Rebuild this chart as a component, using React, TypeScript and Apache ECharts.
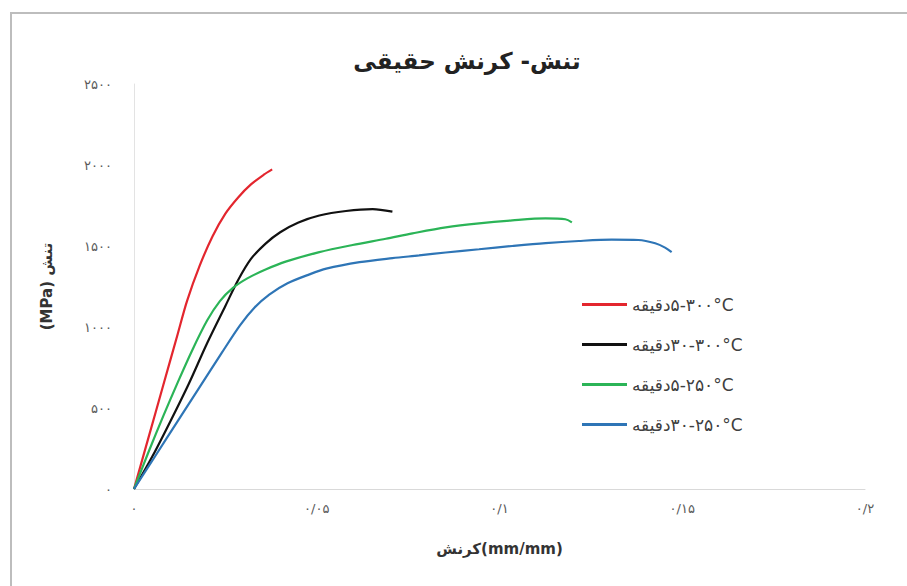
import React, { useEffect, useRef } from "react";
import * as echarts from "echarts";

const seriesNames = [
  "دقیقه\u200E۵-۳۰۰°C",
  "دقیقه\u200E۳۰-۳۰۰°C",
  "دقیقه\u200E۵-۲۵۰°C",
  "دقیقه\u200E۳۰-۲۵۰°C",
];
const seriesColors = ["#e3262e", "#111111", "#2bb457", "#2e75b6"];

const red300_5: [number, number][] = [
  [0, 0], [0.004, 320], [0.008, 640], [0.012, 960], [0.0145, 1160],
  [0.018, 1380], [0.0215, 1560], [0.025, 1700], [0.0285, 1800],
  [0.032, 1880], [0.0355, 1940], [0.0378, 1973],
];
const black300_30: [number, number][] = [
  [0, 0], [0.005, 200], [0.01, 420], [0.015, 650], [0.02, 900],
  [0.025, 1130], [0.0285, 1290], [0.032, 1420], [0.036, 1515],
  [0.04, 1585], [0.045, 1645], [0.0507, 1688], [0.058, 1716],
  [0.0653, 1728], [0.0707, 1712],
];
const green250_5: [number, number][] = [
  [0, 0], [0.004, 230], [0.008, 450], [0.012, 660], [0.016, 860],
  [0.02, 1040], [0.0235, 1160], [0.027, 1240], [0.031, 1300],
  [0.036, 1355], [0.0417, 1405], [0.0507, 1462], [0.0598, 1506],
  [0.0689, 1545], [0.0762, 1578], [0.0853, 1615], [0.0944, 1640],
  [0.1035, 1658], [0.1126, 1670], [0.118, 1665], [0.1198, 1646],
];
const blue250_30: [number, number][] = [
  [0, 0], [0.006, 210], [0.012, 420], [0.018, 630], [0.024, 840],
  [0.029, 1010], [0.033, 1120], [0.037, 1200], [0.042, 1270],
  [0.048, 1325], [0.0526, 1360], [0.0617, 1400], [0.0707, 1425],
  [0.078, 1442], [0.0853, 1460], [0.0944, 1480], [0.1035, 1500],
  [0.1126, 1518], [0.1217, 1531], [0.1307, 1539], [0.138, 1537],
  [0.1426, 1517], [0.1453, 1490], [0.1471, 1462],
];
const seriesData = [red300_5, black300_30, green250_5, blue250_30];

const xTickLabels = ["۰", "۰/۰۵", "۰/۱", "۰/۱۵", "۰/۲"];
const yTickLabels = ["۰", "۵۰۰", "۱۰۰۰", "۱۵۰۰", "۲۰۰۰", "۲۵۰۰"];

const titleText = "تنش- کرنش حقیقی";
const xAxisTitle = "کرنش(mm/mm)";
const yAxisTitle = "\u202Bتنش (MPa)\u202C";

const FONT = "'DejaVu Sans', 'Noto Sans', sans-serif";

export default function App() {
  const ref = useRef<HTMLDivElement>(null);
  useEffect(() => {
    document.body.style.margin = "0";
    if (!ref.current) return;
    const chart = echarts.init(ref.current, undefined, { renderer: "svg" });
    chart.setOption({
      animation: false,
      backgroundColor: "#ffffff",
      graphic: [
        {
          type: "rect",
          shape: { x: 11, y: 13, width: 1000, height: 1000 },
          style: { fill: "none", stroke: "#bdbdbd", lineWidth: 2 },
          silent: true,
        },
      ],
      title: {
        text: titleText,
        left: 462,
        top: 44,
        textAlign: "center",
        textStyle: { fontFamily: FONT, fontSize: 23, fontWeight: "bold", color: "#222" },
      },
      grid: { left: 134, right: 42, top: 84, bottom: 97, containLabel: false },
      legend: {
        orient: "vertical",
        left: 577,
        top: 290,
        icon: "rect",
        itemWidth: 45,
        itemHeight: 3,
        itemGap: 21,
        textStyle: { fontFamily: FONT, fontSize: 17, color: "#404040", lineHeight: 19 },
        data: seriesNames,
      },
      xAxis: {
        type: "value",
        min: 0,
        max: 0.2,
        interval: 0.05,
        name: xAxisTitle,
        nameLocation: "middle",
        nameGap: 52,
        nameTextStyle: { fontFamily: FONT, fontSize: 15, fontWeight: "bold", color: "#333" },
        axisLine: { show: true, lineStyle: { color: "#d9d9d9", width: 1 } },
        axisTick: { show: false },
        splitLine: { show: false },
        axisLabel: {
          margin: 13,
          fontFamily: FONT,
          fontSize: 13,
          color: "#595959",
          formatter: (v: number) => xTickLabels[Math.round(v / 0.05)] ?? "",
        },
      },
      yAxis: {
        type: "value",
        min: 0,
        max: 2500,
        interval: 500,
        name: yAxisTitle,
        nameLocation: "middle",
        nameGap: 80,
        nameTextStyle: { fontFamily: FONT, fontSize: 15, fontWeight: "bold", color: "#333" },
        axisLine: { show: true, lineStyle: { color: "#e3e3e3", width: 1 } },
        axisTick: { show: false },
        splitLine: { show: false },
        axisLabel: {
          margin: 22,
          fontFamily: FONT,
          fontSize: 13,
          color: "#595959",
          formatter: (v: number) => yTickLabels[Math.round(v / 500)] ?? "",
        },
      },
      series: seriesNames.map((name, i) => ({
        name,
        type: "line",
        data: seriesData[i],
        smooth: 0.3,
        showSymbol: false,
        symbol: "none",
        color: seriesColors[i],
        lineStyle: { color: seriesColors[i], width: 2.2 },
      })),
    });
    return () => chart.dispose();
  }, []);
  return <div ref={ref} style={{ width: 907, height: 586 }} />;
}
